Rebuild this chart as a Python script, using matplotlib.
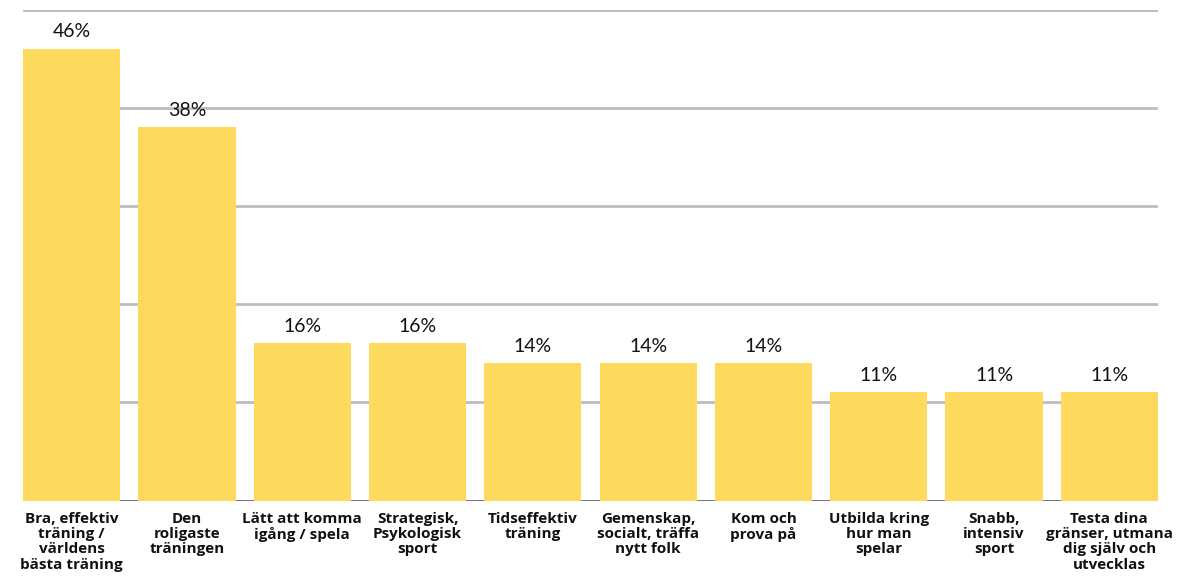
import matplotlib
matplotlib.use("Agg")
import matplotlib.pyplot as plt

categories = [
    "Bra, effektiv\nträning /\nvärldens\nbästa träning",
    "Den\nroligaste\nträningen",
    "Lätt att komma\nigång / spela",
    "Strategisk,\nPsykologisk\nsport",
    "Tidseffektiv\nträning",
    "Gemenskap,\nsocialt, träffa\nnytt folk",
    "Kom och\nprova på",
    "Utbilda kring\nhur man\nspelar",
    "Snabb,\nintensiv\nsport",
    "Testa dina\ngränser, utmana\ndig själv och\nutvecklas",
]
values = [46, 38, 16, 16, 14, 14, 14, 11, 11, 11]
value_labels = ["46%", "38%", "16%", "16%", "14%", "14%", "14%", "11%", "11%", "11%"]
gridlines = [10, 20, 30, 40, 50]

W, H = 1182, 578
fig = plt.figure(figsize=(W / 100, H / 100), dpi=100)
ax = fig.add_axes([23 / W, 77.5 / H, (1158 - 23) / W, (500.5 - 9.5) / H])

bw = 97 / 115
x = list(range(len(values)))
ax.bar(x, values, width=bw, color="#FDD95D", zorder=2)
for g in gridlines:
    ax.axhline(g, color="#BDBDBD", lw=2, zorder=1)
ax.axhline(0, color="#666666", lw=2, zorder=1)

ax.set_xlim(-bw / 2, len(values) - 1 + bw / 2)
ax.set_ylim(0, 50)
for s in ax.spines.values():
    s.set_visible(False)
ax.set_yticks([])
ax.set_xticks([])

for xi, v, lab in zip(x, values, value_labels):
    ax.annotate(lab, (xi, v), xytext=(0, 6), textcoords="offset points",
                ha="center", va="bottom", fontsize=14, family="Lato",
                color="#111111")

for xi, c in zip(x, categories):
    ax.annotate(c, (xi, 0), xytext=(0, -8), textcoords="offset points",
                ha="center", va="top", fontsize=11, family="Open Sans",
                fontweight="bold", color="#111111", linespacing=1.12,
                annotation_clip=False)

fig.savefig("out.png", dpi=100)
